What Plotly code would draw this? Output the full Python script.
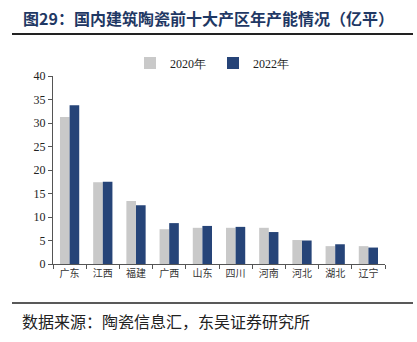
import plotly.graph_objects as go

categories = ["广东", "江西", "福建", "广西", "山东", "四川", "河南", "河北", "湖北", "辽宁"]
cap_2020 = [31.3, 17.4, 13.4, 7.4, 7.7, 7.7, 7.7, 5.1, 3.8, 3.8]
cap_2022 = [33.8, 17.5, 12.5, 8.7, 8.1, 7.9, 6.8, 5.0, 4.2, 3.5]
series_names = ["2020年", "2022年"]
y_ticks = [0, 5, 10, 15, 20, 25, 30, 35, 40]

W, H = 417, 342
L, R, T, B = 53, 32, 76, 78
PW, PH = W - L - R, H - T - B

fig = go.Figure()
fig.add_trace(go.Bar(x=categories, y=cap_2020, name=series_names[0],
                     marker=dict(color="#C9C9C9", line=dict(width=0))))
fig.add_trace(go.Bar(x=categories, y=cap_2022, name=series_names[1],
                     marker=dict(color="#264478", line=dict(width=0))))

serif = "Liberation Serif, Times New Roman, serif"
cjk = "Noto Sans CJK SC, sans-serif"

def px(xpix):
    return (xpix - L) / PW

def py(ypix):
    return (H - B - ypix) / PH

fig.update_layout(
    width=W, height=H,
    margin=dict(l=L, r=R, t=T, b=B),
    paper_bgcolor="white", plot_bgcolor="white",
    barmode="group", bargap=0.42, bargroupgap=0,
    showlegend=True,
    legend=dict(orientation="h", x=px(130), xanchor="left", y=py(63), yanchor="middle",
                font=dict(family=serif, size=12, color="#222"),
                itemwidth=30, entrywidth=38, entrywidthmode="pixels",
                bgcolor="rgba(0,0,0,0)"),
    xaxis=dict(showline=True, linecolor="#555", linewidth=1, ticks="outside",
               tickson="boundaries", ticklen=4, tickcolor="#555",
               tickfont=dict(family=cjk, size=10, color="#333"), showgrid=False),
    yaxis=dict(range=[0, 40], tickvals=y_ticks, showline=True, linecolor="#555",
               linewidth=1, ticks="outside", ticklen=4, tickcolor="#555",
               tickfont=dict(family=serif, size=12, color="#222"), showgrid=False,
               zeroline=False),
    font=dict(family=cjk),
)

fig.add_annotation(text="<b>图29：国内建筑陶瓷前十大产区年产能情况（亿平）</b>",
                   xref="paper", yref="paper", x=px(21), xanchor="left",
                   y=py(18), yanchor="middle", showarrow=False,
                   font=dict(family=cjk, size=16, color="#1F3864"))
fig.add_annotation(text="数据来源：陶瓷信息汇，东吴证券研究所",
                   xref="paper", yref="paper", x=px(20), xanchor="left",
                   y=py(321), yanchor="middle", showarrow=False,
                   font=dict(family=cjk, size=16, color="#222"))

fig.add_shape(type="line", xref="paper", yref="paper",
              x0=px(12), x1=px(413), y0=py(34), y1=py(34),
              line=dict(color="#222", width=2))
fig.add_shape(type="line", xref="paper", yref="paper",
              x0=px(12), x1=px(413), y0=py(303), y1=py(303),
              line=dict(color="#222", width=1.5))

fig.write_html("out.html")
